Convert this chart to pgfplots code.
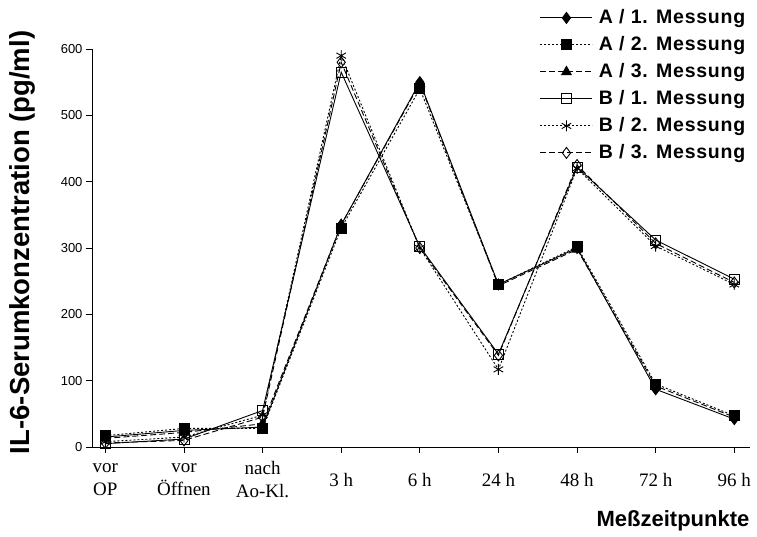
\documentclass[border=0pt]{standalone}
\usepackage{fontspec}
\setmainfont{Liberation Serif}
\setsansfont{Liberation Sans}
\newfontfamily\legfont[LetterSpace=4]{Liberation Sans}
\usepackage{pgfplots}
\pgfplotsset{compat=1.18}
\begin{document}
\begin{tikzpicture}[x=1pt,y=1pt]
\path[use as bounding box] (0,0) rectangle (757,537);
\begin{axis}[
  at={(92pt,90pt)}, anchor=south west,
  scale only axis, width=658pt, height=398pt,
  xmin=-0.17, xmax=8.2, ymin=0, ymax=600,
  axis lines=left, axis line style={-, line width=0.7pt},
  tick align=outside, major tick length=6pt,
  tick style={black, line width=0.7pt},
  xtick={0,...,8},
  xticklabels={{vor\\OP},{vor\\Öffnen},{nach\\Ao-Kl.},3 h,6 h,24 h,48 h,72 h,96 h},
  xticklabel style={font=\fontsize{19}{23}\selectfont, align=center, anchor=center, yshift=-27pt},
  ytick={0,100,...,600},
  yticklabel style={font=\sffamily\fontsize{13}{15}\selectfont},
  /pgf/number format/assume math mode=true,
  ylabel={IL-6-Serumkonzentration (pg/ml)},
  ylabel style={font=\sffamily\bfseries\fontsize{27.5}{31}\selectfont, at={(axis description cs:-0.106,0.514)}, anchor=center},
  legend style={at={(axis description cs:0.676,1.105)}, anchor=north west, draw=none, fill=none,
    font=\legfont\bfseries\fontsize{19.5}{22}\selectfont, row sep=10pt, column sep=6pt,
    nodes={inner sep=0pt, text height=14pt, text depth=3pt}},
  legend cell align=left,
  legend image code/.code={\draw[mark repeat=2,mark phase=2,#1] plot coordinates {(0pt,0pt)(26pt,0pt)(52pt,0pt)};},
  every axis plot/.append style={black, line width=0.9pt},
]
\addplot[solid, mark=diamond*, mark size=5.5pt] coordinates {(0,15) (1,25) (2,30) (3,335) (4,550) (5,245) (6,300) (7,87) (8,42)};
\addplot[dash pattern=on 2pt off 2pt, mark=square*, mark size=5pt, mark options={solid}] coordinates {(0,17) (1,28) (2,28) (3,330) (4,540) (5,245) (6,302) (7,95) (8,47)};
\addplot[dash pattern=on 6pt off 3pt, mark=triangle*, mark size=5.5pt, mark options={solid}] coordinates {(0,13) (1,22) (2,35) (3,335) (4,548) (5,243) (6,298) (7,92) (8,45)};
\addplot[solid, mark=square, mark size=5pt] coordinates {(0,5) (1,12) (2,55) (3,565) (4,302) (5,140) (6,422) (7,312) (8,253)};
\addplot[dash pattern=on 2pt off 2pt, mark=asterisk, mark size=5.5pt, mark options={solid}] coordinates {(0,8) (1,15) (2,48) (3,590) (4,300) (5,117) (6,420) (7,303) (8,245)};
\addplot[dash pattern=on 6pt off 3pt, mark=diamond, mark size=5.5pt, mark options={solid}] coordinates {(0,6) (1,10) (2,45) (3,580) (4,300) (5,138) (6,425) (7,307) (8,248)};
\legend{A / 1. Messung, A / 2. Messung, A / 3. Messung, B / 1. Messung, B / 2. Messung, B / 3. Messung}
\end{axis}
\node[font=\sffamily\bfseries\fontsize{22}{26}\selectfont, anchor=base] at (673,10) {Meßzeitpunkte};
\end{tikzpicture}
\end{document}
